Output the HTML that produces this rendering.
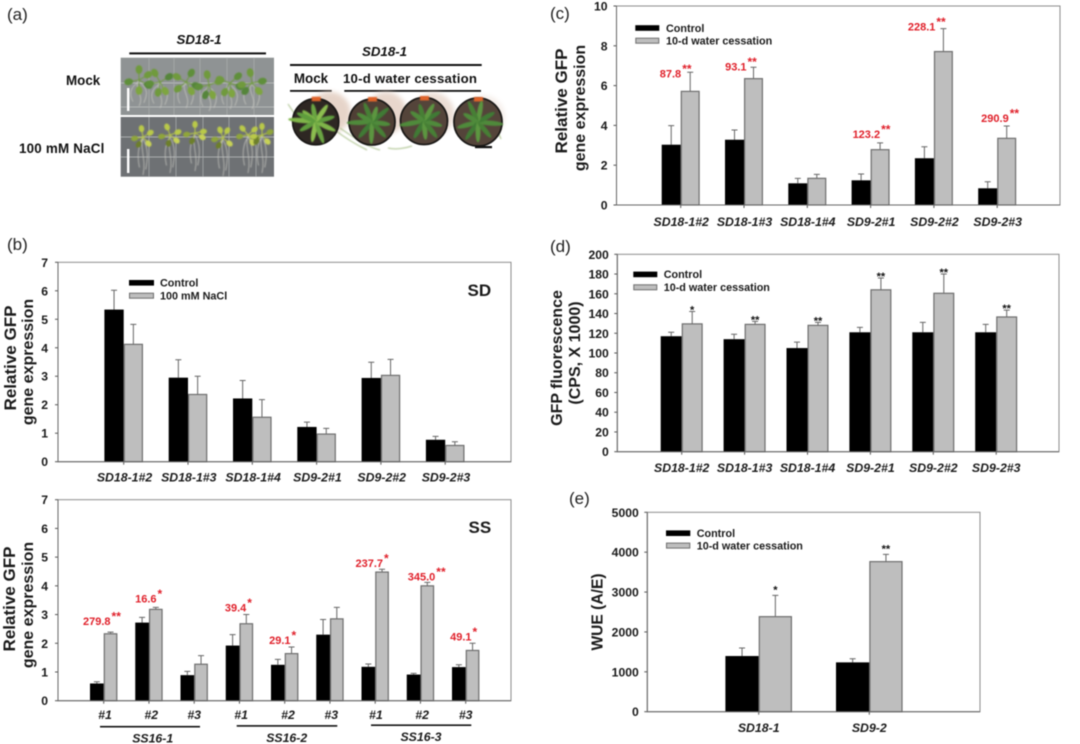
<!DOCTYPE html>
<html lang="en">
<head>
<meta charset="utf-8">
<title>GFP expression figure</title>
<style>
html,body{margin:0;padding:0;background:#fff;}
body{width:1080px;height:744px;overflow:hidden;}
svg{display:block;filter:blur(0.45px);}
text{font-family:"Liberation Sans",sans-serif;}
</style>
</head>
<body>
<svg id="figure" xmlns="http://www.w3.org/2000/svg" width="1080" height="744" viewBox="0 0 1080 744">
  <defs>
    <filter id="soft" x="-10%" y="-10%" width="120%" height="120%"><feGaussianBlur stdDeviation="0.5"/></filter>
    <filter id="softer" x="-30%" y="-30%" width="160%" height="160%"><feGaussianBlur stdDeviation="2.5"/></filter>
  </defs>
  <rect width="1080" height="744" fill="#ffffff"/>

  <text x="7" y="20" font-size="17" fill="#222">(a)</text>
  <text x="7" y="250" font-size="17" fill="#222">(b)</text>
  <text x="550" y="19" font-size="17" fill="#222">(c)</text>
  <text x="550" y="252" font-size="17" fill="#222">(d)</text>
  <text x="569" y="504" font-size="17" fill="#222">(e)</text>

  <g id="photos">
    <text x="199" y="44" font-size="13.3" font-weight="bold" font-style="italic" text-anchor="middle" fill="#111">SD18-1</text>
    <rect x="129.3" y="52.4" width="136.7" height="2" fill="#111"/>
    <text x="66" y="85" font-size="13.4" font-weight="bold" fill="#111">Mock</text>
    <text x="19" y="153" font-size="13.4" font-weight="bold" letter-spacing="0.2" fill="#111">100 mM NaCl</text>
    <text x="384.5" y="56" font-size="13.3" font-weight="bold" font-style="italic" text-anchor="middle" fill="#111">SD18-1</text>
    <rect x="290" y="64" width="191.7" height="2" fill="#111"/>
    <text x="311" y="83" font-size="13.4" font-weight="bold" text-anchor="middle" fill="#111">Mock</text>
    <text x="343" y="83" font-size="13.2" font-weight="bold" letter-spacing="0.22" fill="#111">10-d  water cessation</text>
    <rect x="290" y="90" width="41.7" height="1.8" fill="#111"/>
    <rect x="344.3" y="90" width="136.7" height="1.8" fill="#111"/>
  </g>
</svg>

<script>
/* ---------- (b) SD ---------- */
const lineCategories = ['SD18-1#2', 'SD18-1#3', 'SD18-1#4', 'SD9-2#1', 'SD9-2#2', 'SD9-2#3'];
const sdTicks = [0, 1, 2, 3, 4, 5, 6, 7];
const sdControl = [5.34, 2.95, 2.22, 1.22, 2.94, 0.77];
const sdControlErr = [0.68, 0.63, 0.63, 0.17, 0.55, 0.12];
const sdTreatment = [4.12, 2.36, 1.56, 0.97, 3.03, 0.57];
const sdTreatmentErr = [0.70, 0.64, 0.62, 0.20, 0.56, 0.13];

/* ---------- (b) SS ---------- */
const ssCategories = ['#1', '#2', '#3', '#1', '#2', '#3', '#1', '#2', '#3'];
const ssGroups = ['SS16-1', 'SS16-2', 'SS16-3'];
const ssTicks = [0, 1, 2, 3, 4, 5, 6, 7];
const ssControl = [0.60, 2.72, 0.89, 1.92, 1.25, 2.30, 1.18, 0.91, 1.17];
const ssControlErr = [0.06, 0.18, 0.13, 0.38, 0.19, 0.53, 0.10, 0.04, 0.08];
const ssTreatment = [2.33, 3.18, 1.27, 2.68, 1.64, 2.85, 4.48, 4.00, 1.75];
const ssTreatmentErr = [0.06, 0.07, 0.30, 0.32, 0.23, 0.40, 0.10, 0.12, 0.25];
const ssFoldLabels = ['279.8', '16.6', '', '39.4', '29.1', '', '237.7', '345.0', '49.1'];
const ssStars = ['**', '*', '', '*', '*', '', '*', '**', '*'];

/* ---------- (c) ---------- */
const cTicks = [0, 2, 4, 6, 8, 10];
const cControl = [3.03, 3.28, 1.09, 1.24, 2.35, 0.84];
const cControlErr = [0.96, 0.49, 0.25, 0.32, 0.58, 0.33];
const cTreatment = [5.71, 6.35, 1.34, 2.78, 7.71, 3.35];
const cTreatmentErr = [0.96, 0.57, 0.20, 0.34, 1.15, 0.62];
const cFoldLabels = ['87.8', '93.1', '', '123.2', '228.1', '290.9'];
const cStars = ['**', '**', '', '**', '**', '**'];

/* ---------- (d) ---------- */
const dTicks = [0, 20, 40, 60, 80, 100, 120, 140, 160, 180, 200];
const dControl = [117, 114, 105, 121, 121, 121];
const dControlErr = [4, 5, 6, 5, 10, 8];
const dTreatment = [129.5, 129, 128, 164, 160.5, 136.5];
const dTreatmentErr = [12.5, 3, 3, 12, 19.5, 7];
const dStars = ['*', '**', '**', '**', '**', '**'];

/* ---------- (e) ---------- */
const eCategories = ['SD18-1', 'SD9-2'];
const eTicks = [0, 1000, 2000, 3000, 4000, 5000];
const eControl = [1396, 1237];
const eControlErr = [200, 92];
const eTreatment = [2383, 3763];
const eTreatmentErr = [535, 183];
const eStars = ['*', '**'];

const SVGNS = 'http://www.w3.org/2000/svg';
const root = document.getElementById('figure');

function el(tag, attrs, parent, txt) {
  const node = document.createElementNS(SVGNS, tag);
  for (const k in attrs) node.setAttribute(k, attrs[k]);
  if (txt !== undefined) node.textContent = txt;
  (parent || root).appendChild(node);
  return node;
}

function yScale(p, v) { return p.bottom - (v / p.yMax) * (p.bottom - p.top); }
function xScale(p, i) { return p.firstX + i * p.step; }

function drawPanel(p) {
  const g = el('g', {});
  
  

  const frame = el('rect', { x: p.left, y: p.top, width: p.right - p.left, height: p.bottom - p.top, fill: 'none', stroke: '#8c8c8c', 'stroke-width': 1 }, g);
  
  

  p.ticks.forEach(function (t) {
    const y = yScale(p, t);
    const tick = el('line', { x1: p.left - 3, x2: p.left, y1: y, y2: y, stroke: '#555', 'stroke-width': 1 }, g);
    
    
    const label = el('text', { x: p.left - p.tickGap, y: y + 4.5, 'font-size': 12.2, 'font-weight': 'bold', 'text-anchor': 'end', fill: '#1a1a1a' }, g, String(t));
    
    
  });

  p.categories.forEach(function (c, i) {
    const cx = xScale(p, i);
    const vC = p.control[i], vT = p.treatment[i];
    const yC = yScale(p, vC), yT = yScale(p, vT);

    const tick = el('line', { x1: cx, x2: cx, y1: p.bottom, y2: p.bottom + 3, stroke: '#555', 'stroke-width': 1 }, g);
    
    

    const yEC = yScale(p, vC + p.controlErr[i]);
    const errC = el('path', { d: 'M' + (cx - p.barW / 2) + ' ' + yC + 'V' + yEC + 'M' + (cx - p.barW / 2 - p.cap) + ' ' + yEC + 'H' + (cx - p.barW / 2 + p.cap), fill: 'none', stroke: '#666', 'stroke-width': 1 }, g);
    
    

    const yET = yScale(p, vT + p.treatmentErr[i]);
    const errT = el('path', { d: 'M' + (cx + p.barW / 2) + ' ' + yT + 'V' + yET + 'M' + (cx + p.barW / 2 - p.cap) + ' ' + yET + 'H' + (cx + p.barW / 2 + p.cap), fill: 'none', stroke: '#666', 'stroke-width': 1 }, g);
    
    

    const barC = el('rect', { x: cx - p.barW, y: yC, width: p.barW, height: p.bottom - yC, fill: '#000' }, g);
    
    

    const barT = el('rect', { x: cx + 0.6, y: yT, width: p.barW - 1.2, height: p.bottom - yT, fill: '#bebebe', stroke: '#6e6e6e', 'stroke-width': 1.2 }, g);
    
    

    const catLabel = el('text', { x: cx + p.catDx + (p.catNudge ? p.catNudge[i] : 0), y: p.catY, 'font-size': p.catSize, 'font-weight': 'bold', 'font-style': 'italic', 'text-anchor': 'middle', fill: '#1a1a1a' }, g, c);
    
    

    if (p.foldLabels && p.foldLabels[i]) {
      const off = p.foldOffsets[i];
      const lx = cx + p.barW / 2 + off[0];
      const ly = yET + off[1];
      const fold = el('text', { x: lx, y: ly, 'font-size': 11, 'font-weight': 'bold', 'text-anchor': 'end', fill: '#e0202a' }, g, p.foldLabels[i]);
      
      
      const star = el('text', { x: lx + 1, y: ly - 4.5, 'font-size': 12, 'font-weight': 'bold', fill: '#e0202a' }, g, p.stars[i]);
      
      
    } else if (!p.foldLabels && p.stars && p.stars[i]) {
      const star = el('text', { x: cx + p.barW / 2, y: yET + p.starDy, 'font-size': 11, 'font-weight': 'bold', 'text-anchor': 'middle', fill: '#111' }, g, p.stars[i]);
      
      
    }
  });

  const axisLine = el('path', { d: 'M' + p.left + ' ' + p.top + 'V' + p.bottom + 'H' + p.right, fill: 'none', stroke: '#666', 'stroke-width': 1 }, g);
  
  

  p.titles.forEach(function (t) {
    const title = el('text', { transform: 'translate(' + t.x + ' ' + t.y + ') rotate(-90)', 'font-size': t.size, 'font-weight': 'bold', 'text-anchor': 'middle', fill: '#1a1a1a' }, g, t.text);
    
    
  });

  const L = p.legend;
  if (!L) return;
  const sw1 = el('rect', { x: L.x, y: L.y, width: L.w, height: 5.6, fill: '#000' }, g);
  
  
  const lt1 = el('text', { x: L.tx, y: L.y + 6.6, 'font-size': 10.8, 'font-weight': 'bold', fill: '#1a1a1a' }, g, 'Control');
  
  
  const sw2 = el('rect', { x: L.x + 0.5, y: L.y + L.gap + 0.5, width: L.w - 1, height: 5, fill: '#bebebe', stroke: '#6e6e6e', 'stroke-width': 1 }, g);
  
  
  const lt2 = el('text', { x: L.tx, y: L.y + L.gap + 6.8, 'font-size': 10.8, 'font-weight': 'bold', fill: '#1a1a1a' }, g, L.label);
  
  
}

drawPanel({
  name: 'sd', left: 58, right: 511, top: 262.3, bottom: 461.7, yMax: 7, ticks: sdTicks, tickGap: 10,
  firstX: 123.7, step: 64.3, barW: 19.3, cap: 3, categories: lineCategories, catDx: 0.8, catY: 481.5, catSize: 12.3,
  control: sdControl, controlErr: sdControlErr, treatment: sdTreatment, treatmentErr: sdTreatmentErr,
  titles: [{ text: 'Relative GFP', x: 16, y: 358, size: 17 }, { text: 'gene expression', x: 33, y: 362, size: 16 }],
  legend: { x: 129, y: 280, w: 25, gap: 12.7, tx: 160, label: '100 mM NaCl' }
});

drawPanel({
  name: 'ss', left: 58, right: 511, top: 499.7, bottom: 700.7, yMax: 7, ticks: ssTicks, tickGap: 10,
  firstX: 103.7, step: 45.25, barW: 13.7, cap: 3, categories: ssCategories, catDx: 0, catY: 719, catSize: 12.3,
  catNudge: [1.3, 2.3, 0, 1.7, 3.3, 1.3, 0.7, 1.7, 0],
  control: ssControl, controlErr: ssControlErr, treatment: ssTreatment, treatmentErr: ssTreatmentErr,
  foldLabels: ssFoldLabels, stars: ssStars,
  foldOffsets: [[0, -7], [0.7, -5], null, [0, -3], [-1, -3], null, [1, -2], [8, -2], [-1, -3]],
  titles: [{ text: 'Relative GFP', x: 15, y: 599, size: 17 }, { text: 'gene expression', x: 33, y: 605, size: 16 }],
  legend: null
});

drawPanel({
  name: 'water-expression', left: 616.5, right: 1060, top: 6, bottom: 205, yMax: 10, ticks: cTicks, tickGap: 9,
  firstX: 680.7, step: 63.3, barW: 19, cap: 3, categories: lineCategories, catDx: 0.5, catY: 226, catSize: 12.3,
  control: cControl, controlErr: cControlErr, treatment: cTreatment, treatmentErr: cTreatmentErr,
  foldLabels: cFoldLabels, stars: cStars,
  foldOffsets: [[-9, 5], [-7, 3], null, [0, -5], [-8, 2], [2, -4]],
  titles: [{ text: 'Relative GFP', x: 567, y: 101, size: 17 }, { text: 'gene expression', x: 585, y: 108, size: 16 }],
  legend: { x: 635.3, y: 25.2, w: 24, gap: 12.5, tx: 666, label: '10-d water cessation' }
});

drawPanel({
  name: 'water-fluorescence', left: 617.3, right: 1059, top: 254.3, bottom: 451.7, yMax: 200, ticks: dTicks, tickGap: 8.5,
  firstX: 681.7, step: 62.9, barW: 21, cap: 3, categories: lineCategories, catDx: 0, catY: 472, catSize: 12.3,
  control: dControl, controlErr: dControlErr, treatment: dTreatment, treatmentErr: dTreatmentErr,
  stars: dStars, starDy: 2,
  titles: [{ text: 'GFP fluorescence', x: 562, y: 358, size: 16 }, { text: '(CPS, X 1000)', x: 580, y: 353, size: 16 }],
  legend: { x: 633.3, y: 271.6, w: 24, gap: 12.7, tx: 663.7, label: '10-d water cessation' }
});

drawPanel({
  name: 'wue', left: 647.3, right: 980, top: 512.3, bottom: 711.7, yMax: 5000, ticks: eTicks, tickGap: 8.5,
  firstX: 758.7, step: 110.6, barW: 33.3, cap: 3, categories: eCategories, catDx: 0, catY: 732, catSize: 12.3,
  control: eControl, controlErr: eControlErr, treatment: eTreatment, treatmentErr: eTreatmentErr,
  stars: eStars, starDy: -2,
  titles: [{ text: 'WUE (A/E)', x: 602.5, y: 612, size: 15.6 }],
  legend: { x: 666, y: 530.4, w: 24.3, gap: 12.2, tx: 696.7, label: '10-d water cessation' }
});

/* SS group brackets */
ssGroups.forEach(function (name, i) {
  const cols = [[100, 200, 726.7, 152.7, 742.3], [236.7, 337.3, 725.9, 286.7, 742], [371, 471.3, 725.2, 421, 741]][i];
  const bracket = el('rect', { x: cols[0], y: cols[2] - 0.8, width: cols[1] - cols[0], height: 1.6, fill: '#111' });
  
  
  const lbl = el('text', { x: cols[3], y: cols[4], 'font-size': 12.3, 'font-weight': 'bold', 'font-style': 'italic', 'text-anchor': 'middle', fill: '#1a1a1a' }, root, name);
  
  
});

const sdTag = el('text', { x: 467.5, y: 296, 'font-size': 17, 'font-weight': 'bold', fill: '#1a1a1a' }, root, 'SD');


const ssTag = el('text', { x: 468.5, y: 533, 'font-size': 17, 'font-weight': 'bold', fill: '#1a1a1a' }, root, 'SS');



/* ---------- photo illustrations in (a) ---------- */
const photos = document.getElementById('photos');

function plate(x, y, w, h, fill, hLines, vLines, name) {
  const g = el('g', {}, photos);
  
  
  const bg = el('rect', { x: x, y: y, width: w, height: h, fill: fill }, g);
  
  
  hLines.concat(vLines).forEach(function (l, i) {
    const isH = i < hLines.length;
    const line = el('line', isH ? { x1: x, x2: x + w, y1: l, y2: l, stroke: '#c0c3c3', 'stroke-width': 0.8 } : { x1: l, x2: l, y1: y, y2: y + h, stroke: '#a8abab', 'stroke-width': 0.8 }, g);
    
    
  });
  return g;
}

function plant(parent, cx, cy, angles, len, colors, rootLen, rootW) {
  const g = el('g', { filter: 'url(#soft)' }, parent);
  
  
  const roots = el('path', { d: 'M' + cx + ' ' + cy + 'c' + (-rootW) + ' ' + rootLen * 0.3 + ' ' + rootW + ' ' + rootLen * 0.6 + ' 0 ' + rootLen + 'M' + cx + ' ' + (cy + 2) + 'c' + (rootW * 1.6) + ' ' + rootLen * 0.25 + ' ' + (rootW * 1.4) + ' ' + rootLen * 0.5 + ' ' + rootW * 0.8 + ' ' + rootLen * 0.8 + 'M' + cx + ' ' + (cy + 2) + 'c' + (-rootW * 1.6) + ' ' + rootLen * 0.2 + ' ' + (-rootW * 1.6) + ' ' + rootLen * 0.5 + ' ' + (-rootW) + ' ' + rootLen * 0.75, fill: 'none', stroke: '#c9c9c2', 'stroke-width': 0.7 }, g);
  
  
  angles.forEach(function (a, i) {
    const rad = a * Math.PI / 180;
    const lx = cx + Math.cos(rad) * len, ly = cy + Math.sin(rad) * len;
    const stem = el('line', { x1: cx, y1: cy, x2: lx, y2: ly, stroke: colors[0], 'stroke-width': 1 }, g);
    
    
    const leaf = el('ellipse', { cx: lx, cy: ly, rx: len * 0.42, ry: len * 0.32, fill: colors[i % colors.length], transform: 'rotate(' + a + ' ' + lx + ' ' + ly + ')' }, g);
    
    
  });
}

const topPlate = plate(120.7, 57.7, 153.3, 57.3, '#8f9394', [83, 107], [149, 174, 200, 227, 254], 'mock-plate-photo');
const botPlate = plate(120.7, 117, 153.3, 59.7, '#6e7174', [137, 157], [149, 176, 203, 229, 256], 'nacl-plate-photo');
const greens = ['#6f9a3c', '#5f8f3a', '#7ea53f', '#54853a'];
const yellows = ['#b9c94a', '#8fa53a', '#c7d256', '#6d7f2c'];
[[139, 80, [-90, 170, 90, 30, -30]], [160, 82, [-120, 170, 60, -30, 100]], [186, 82, [-150, -60, 60, 20, 140]], [209, 85, [-100, 170, 70, 110, -20]], [230, 83, [-160, -40, 80, 20, 120]], [252, 83, [-100, -10, 50, 130, 170]]].forEach(function (s) {
  plant(topPlate, s[0], s[1], s[2], 10.5, greens, 26, 6);
});
[[143, 137, [-100, 170, 50, 120, -30]], [170, 135, [-110, 170, 40, 100, -20]], [195, 133, [-90, 170, 30, 110, -10]], [223, 138, [-60, 170, 40, 120, -110]], [248, 135, [-130, 170, 60, 20, -40]], [262, 135, [-90, -20, 50, 130, 170]]].forEach(function (s) {
  plant(botPlate, s[0], s[1], s[2], 8.5, yellows, 38, 3.5);
});
[[127, 88, 23], [127, 149, 24]].forEach(function (b) {
  const bar = el('rect', { x: b[0], y: b[1], width: 2.4, height: b[2], fill: '#fff' }, photos);
  
  
});

const potLeaves = ['#4f8a3a', '#3f7a34', '#5c9640', '#467f36'];
const potSpecs = [
  { cx: 315.7, cy: 121.7, r: 23, fill: '#2e2723', colors: ['#7fb548', '#5f9c3e', '#8cbe50', '#6aa542'], shadow: [14, -9, 0.9], angles: [185, 150, 100, 70, 25, -15, -55, -100, -140, 205], reach: [1.2, 0.8, 0.9, 1.0, 0.95, 0.85, 0.9, 0.8, 0.75, 0.9] },
  { cx: 372, cy: 122, r: 23, fill: '#4f3f35', colors: potLeaves, shadow: [14, -9, 0.85], angles: [178, 130, 92, 48, 8, -40, -72, -112, -150], reach: [1.1, 0.9, 0.95, 0.9, 0.8, 0.95, 0.7, 0.9, 0.75] },
  { cx: 424, cy: 121, r: 23.5, fill: '#54443a', colors: potLeaves, shadow: [9, -7, 0.7], angles: [170, 120, 85, 52, 15, -30, -60, -105, -145], reach: [1.05, 0.85, 0.8, 0.9, 0.8, 0.8, 0.85, 0.75, 0.7] },
  { cx: 478, cy: 122, r: 24, fill: '#54443a', colors: potLeaves, shadow: [5, -5, 0.35], angles: [165, 125, 90, 50, 5, -30, -80, -115, -150], reach: [0.9, 0.9, 0.85, 0.85, 1.05, 0.8, 0.9, 0.95, 0.7] }
];
potSpecs.forEach(function (p) {
  const shadow = el('circle', { cx: p.cx + p.shadow[0], cy: p.cy + p.shadow[1], r: p.r - 2, fill: '#e4d0c4', opacity: p.shadow[2], filter: 'url(#softer)' }, photos);
  
  
});
const stems = el('path', { d: 'M335 130c10 8 20 14 32 20M340 128c14 10 30 20 40 22M388 148c8 2 18 0 24 -2M288 104l8 12M495 125l6 14', fill: 'none', stroke: '#a9c08a', 'stroke-width': 1, filter: 'url(#soft)' }, photos);


potSpecs.forEach(function (p) {
  const g = el('g', {}, photos);
  
  
  const pot = el('circle', { cx: p.cx, cy: p.cy, r: p.r, fill: p.fill, stroke: '#1c1a18', 'stroke-width': 1.8 }, g);
  
  
  const tag = el('rect', { x: p.cx - 4, y: p.cy - 25, width: 9, height: 4.5, fill: '#e0642a', filter: 'url(#soft)' }, g);
  
  
  const leafGroup = el('g', { filter: 'url(#soft)' }, g);
  
  
  p.angles.forEach(function (a, i) {
    const rad = a * Math.PI / 180;
    const half = p.r * 0.5 * p.reach[i];
    const lx = p.cx + Math.cos(rad) * half, ly = p.cy + Math.sin(rad) * half;
    const leaf = el('ellipse', { cx: lx, cy: ly, rx: half, ry: 2.5, fill: p.colors[i % p.colors.length], transform: 'rotate(' + a + ' ' + lx + ' ' + ly + ')' }, leafGroup);
    
    
  });
});
const potScale = el('rect', { x: 475, y: 146, width: 17, height: 2.2, fill: '#111' }, photos);


</script>
</body>
</html>
